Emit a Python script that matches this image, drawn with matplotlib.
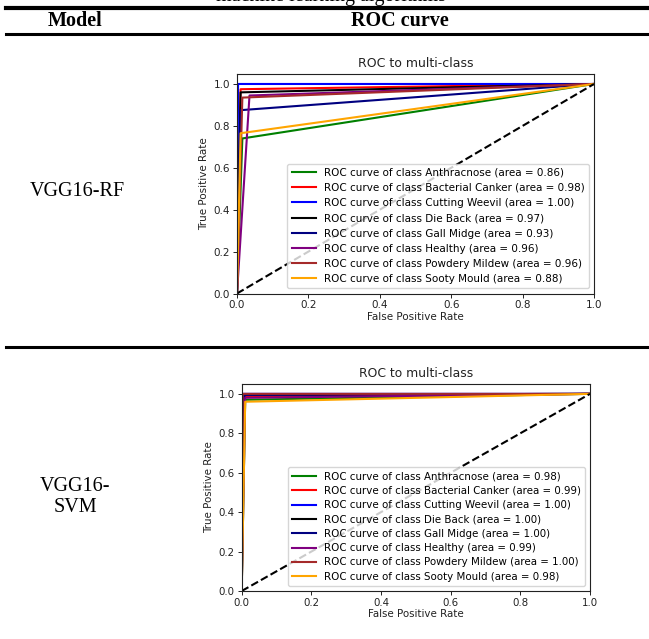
import matplotlib
matplotlib.use("Agg")
import matplotlib.pyplot as plt
from matplotlib.lines import Line2D

classes = ["Anthracnose", "Bacterial Canker", "Cutting Weevil", "Die Back",
           "Gall Midge", "Healthy", "Powdery Mildew", "Sooty Mould"]
colors = ["green", "red", "blue", "black", "navy", "purple", "brown", "orange"]

# VGG16-RF: single operating point per class (FPR, TPR) and reported AUC
rf_fpr = [0.015, 0.010, 0.003, 0.010, 0.010, 0.035, 0.015, 0.010]
rf_tpr = [0.740, 0.975, 1.000, 0.960, 0.875, 0.945, 0.935, 0.765]
rf_auc = [0.86, 0.98, 1.00, 0.97, 0.93, 0.96, 0.96, 0.88]

# VGG16-SVM
svm_fpr = [0.010, 0.005, 0.002, 0.003, 0.008, 0.010, 0.003, 0.010]
svm_tpr = [0.970, 0.985, 1.000, 0.995, 0.995, 0.980, 1.000, 0.960]
svm_auc = [0.98, 0.99, 1.00, 1.00, 1.00, 0.99, 1.00, 0.98]

models = ["VGG16-RF", "VGG16-\nSVM"]
header = ["Model", "ROC curve"]
caption = "machine learning algorithms"

W, H = 649, 639
fig = plt.figure(figsize=(W / 100, H / 100), dpi=100)

def fx(px):
    return px / W

def fy(py):
    return 1 - py / H

serif = ["Liberation Serif", "DejaVu Serif"]

# Caption (cut off at top, as in the source page)
fig.text(fx(331), fy(0.6), caption, ha="center", va="baseline",
         fontsize=14.5, family=serif)

# Table rules
for y, lw in [(7.5, 3.0), (33.5, 2.2), (346.7, 2.2)]:
    fig.add_artist(Line2D([fx(6), 1.0], [fy(y), fy(y)], color="black",
                          lw=lw, transform=fig.transFigure))

fig.text(fx(75), fy(21), header[0], ha="center", va="center",
         fontsize=14.5, family=serif, fontweight="bold")
fig.text(fx(400), fy(21), header[1], ha="center", va="center",
         fontsize=14.5, family=serif, fontweight="bold")

fig.text(fx(77), fy(192), models[0], ha="center", va="center",
         fontsize=14.5, family=serif)
fig.text(fx(75), fy(497), models[1], ha="center", va="center",
         fontsize=14.5, family=serif, linespacing=1.2)

def roc_axes(rect, fpr, tpr, auc, fs, lsp):
    l, t, r, b = rect
    ax = fig.add_axes([fx(l), fy(b), fx(r - l), (b - t) / H])
    for c, f, tp, a, col in zip(classes, fpr, tpr, auc, colors):
        ax.plot([0, f, 1], [0, tp, 1], color=col, lw=1.5,
                label=f"ROC curve of class {c} (area = {a:.2f})")
    ax.plot([0, 1], [0, 1], "k--", lw=1.5)
    ax.set_xlim(0.0, 1.0)
    ax.set_ylim(0.0, 1.05)
    ax.set_xticks([0, 0.2, 0.4, 0.6, 0.8, 1.0])
    ax.set_yticks([0, 0.2, 0.4, 0.6, 0.8, 1.0])
    ax.tick_params(labelsize=fs, length=3, width=0.7, pad=2, colors="#222222")
    for s in ax.spines.values():
        s.set_linewidth(0.8)
        s.set_color("#222222")
    ax.set_xlabel("False Positive Rate", fontsize=fs, labelpad=1, color="#222222")
    ax.set_ylabel("True Positive Rate", fontsize=fs, labelpad=3, color="#222222")
    ax.set_title("ROC to multi-class", fontsize=fs * 1.2, pad=5, color="#222222")
    ax.legend(loc="lower right", fontsize=fs, labelspacing=lsp,
              handlelength=2.3, borderpad=0.4, framealpha=0.8,
              fancybox=True, edgecolor="#cccccc")
    return ax

roc_axes((237, 73.5, 594, 293.5), rf_fpr, rf_tpr, rf_auc, 7.5, 0.5)
roc_axes((241.7, 384, 590, 591), svm_fpr, svm_tpr, svm_auc, 7.4, 0.42)

fig.savefig("out.png", dpi=100)
